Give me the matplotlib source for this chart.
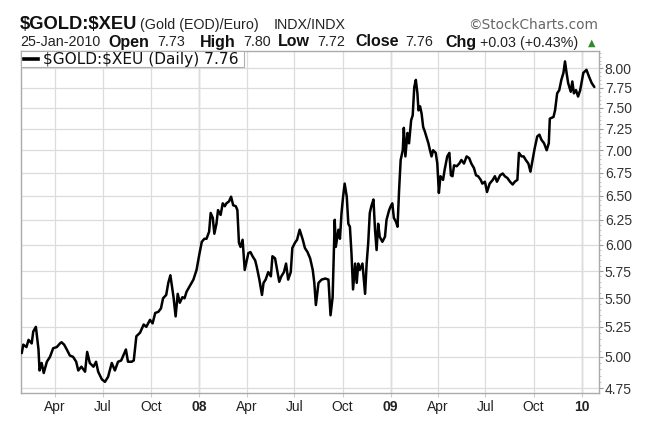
import matplotlib
matplotlib.use("Agg")
import matplotlib.pyplot as plt
import matplotlib.ticker as mticker
from matplotlib.patches import Rectangle
from matplotlib.lines import Line2D
import numpy as np
import pandas as pd

plt.rcParams['text.parse_math'] = False
plt.rcParams['font.family'] = ['Liberation Sans', 'DejaVu Sans']

# ---------------- data ----------------
dates = [
    # 2007
    "2007-01-27", "2007-01-30", "2007-02-05", "2007-02-09", "2007-02-15", "2007-02-18", "2007-02-23", "2007-02-28", "2007-03-02", "2007-03-06",
    "2007-03-10", "2007-03-16", "2007-03-22", "2007-03-28", "2007-04-04", "2007-04-10", "2007-04-13", "2007-04-18", "2007-04-23", "2007-04-29",
    "2007-05-05", "2007-05-11", "2007-05-15", "2007-05-21", "2007-05-28", "2007-06-01", "2007-06-06", "2007-06-13", "2007-06-18", "2007-06-22",
    "2007-06-29", "2007-07-05", "2007-07-11", "2007-07-18", "2007-07-24", "2007-07-30", "2007-08-05", "2007-08-14", "2007-08-18", "2007-08-25",
    "2007-08-29", "2007-09-03", "2007-09-10", "2007-09-17", "2007-09-22", "2007-09-29", "2007-10-04", "2007-10-09", "2007-10-15", "2007-10-20",
    "2007-10-24", "2007-10-30", "2007-11-03", "2007-11-07", "2007-11-13", "2007-11-17", "2007-11-21", "2007-11-25", "2007-11-30", "2007-12-04",
    "2007-12-08", "2007-12-14", "2007-12-21", "2007-12-27",
    # 2008
    "2008-01-01", "2008-01-06", "2008-01-11", "2008-01-15", "2008-01-20", "2008-01-23", "2008-01-27", "2008-01-30", "2008-02-03", "2008-02-06",
    "2008-02-11", "2008-02-15", "2008-02-19", "2008-02-22", "2008-02-27", "2008-03-02", "2008-03-06", "2008-03-11", "2008-03-14", "2008-03-17",
    "2008-03-20", "2008-03-24", "2008-03-28", "2008-04-01", "2008-04-04", "2008-04-08", "2008-04-12", "2008-04-17", "2008-04-20", "2008-04-25",
    "2008-04-30", "2008-05-03", "2008-05-07", "2008-05-12", "2008-05-17", "2008-05-20", "2008-05-25", "2008-05-29", "2008-06-02", "2008-06-06",
    "2008-06-11", "2008-06-15", "2008-06-19", "2008-06-24", "2008-06-27", "2008-07-02", "2008-07-06", "2008-07-11", "2008-07-17", "2008-07-21",
    "2008-07-26", "2008-07-31", "2008-08-05", "2008-08-08", "2008-08-11", "2008-08-16", "2008-08-22", "2008-08-29", "2008-09-04", "2008-09-08",
    "2008-09-12", "2008-09-16", "2008-09-18", "2008-09-23", "2008-09-26", "2008-09-29", "2008-10-02", "2008-10-05", "2008-10-09", "2008-10-12",
    "2008-10-15", "2008-10-18", "2008-10-21", "2008-10-25", "2008-10-28", "2008-10-31", "2008-11-03", "2008-11-08", "2008-11-13", "2008-11-16",
    "2008-11-19", "2008-11-22", "2008-11-25", "2008-11-29", "2008-12-02", "2008-12-05", "2008-12-08", "2008-12-11", "2008-12-16", "2008-12-21",
    "2008-12-24", "2008-12-29",
    # 2009
    "2009-01-01", "2009-01-04", "2009-01-07", "2009-01-11", "2009-01-14", "2009-01-17", "2009-01-20", "2009-01-24", "2009-01-26", "2009-01-29",
    "2009-02-02", "2009-02-05", "2009-02-09", "2009-02-12", "2009-02-15", "2009-02-18", "2009-02-21", "2009-02-23", "2009-02-26", "2009-03-01",
    "2009-03-04", "2009-03-07", "2009-03-10", "2009-03-14", "2009-03-17", "2009-03-20", "2009-03-23", "2009-03-28", "2009-03-31", "2009-04-03",
    "2009-04-06", "2009-04-11", "2009-04-14", "2009-04-19", "2009-04-23", "2009-04-26", "2009-04-29", "2009-05-02", "2009-05-07", "2009-05-12",
    "2009-05-16", "2009-05-21", "2009-05-26", "2009-05-31", "2009-06-04", "2009-06-09", "2009-06-13", "2009-06-17", "2009-06-22", "2009-06-25",
    "2009-06-30", "2009-07-04", "2009-07-09", "2009-07-15", "2009-07-19", "2009-07-23", "2009-07-29", "2009-08-03", "2009-08-07", "2009-08-12",
    "2009-08-17", "2009-08-22", "2009-08-26", "2009-08-31", "2009-09-03", "2009-09-08", "2009-09-12", "2009-09-16", "2009-09-21", "2009-09-25",
    "2009-09-29", "2009-10-03", "2009-10-08", "2009-10-12", "2009-10-16", "2009-10-21", "2009-10-26", "2009-10-30", "2009-11-01", "2009-11-08",
    "2009-11-11", "2009-11-15", "2009-11-19", "2009-11-23", "2009-11-27", "2009-11-30", "2009-12-03", "2009-12-06", "2009-12-11", "2009-12-14",
    "2009-12-17", "2009-12-21", "2009-12-25", "2009-12-29",
    # 2010
    "2010-01-04", "2010-01-10", "2010-01-15", "2010-01-20", "2010-01-25",
]

values = [
    # 2007
    5.03, 5.10, 5.08, 5.14, 5.11, 5.21, 5.25, 5.06, 4.89, 4.95,
    4.87, 4.96, 5.00, 5.07, 5.08, 5.11, 5.12, 5.10, 5.06, 5.01,
    5.00, 4.96, 4.89, 4.92, 4.88, 5.04, 4.95, 4.92, 4.96, 4.88,
    4.82, 4.80, 4.84, 4.95, 4.89, 4.96, 4.97, 5.06, 4.96, 4.96,
    4.97, 5.17, 5.20, 5.27, 5.25, 5.31, 5.28, 5.37, 5.38, 5.41,
    5.50, 5.53, 5.64, 5.71, 5.51, 5.34, 5.54, 5.46, 5.51, 5.50,
    5.56, 5.61, 5.67, 5.76,
    # 2008
    5.90, 6.03, 6.06, 6.06, 6.13, 6.32, 6.27, 6.11, 6.21, 6.35,
    6.30, 6.42, 6.39, 6.42, 6.44, 6.49, 6.40, 6.39, 6.35, 6.02,
    5.98, 6.05, 5.76, 5.85, 5.92, 5.93, 5.89, 5.85, 5.79, 5.67,
    5.53, 5.64, 5.67, 5.74, 5.70, 5.89, 5.87, 5.76, 5.65, 5.70,
    5.74, 5.82, 5.67, 5.74, 5.97, 6.02, 6.05, 6.15, 6.05, 5.97,
    5.93, 5.87, 5.76, 5.64, 5.44, 5.64, 5.67, 5.68, 5.67, 5.35,
    5.51, 6.25, 5.98, 6.15, 6.06, 6.32, 6.49, 6.63, 6.49, 6.21,
    6.18, 5.92, 5.58, 5.82, 5.64, 5.82, 5.76, 5.82, 5.54, 5.82,
    6.02, 6.32, 6.39, 6.46, 6.15, 5.95, 6.21, 6.08, 6.03, 6.08,
    6.25, 6.35,
    # 2009
    6.39, 6.42, 6.27, 6.23, 6.18, 6.56, 6.89, 7.00, 7.26, 6.93,
    7.20, 7.08, 7.35, 7.41, 7.76, 7.85, 7.68, 7.47, 7.52, 7.43,
    7.27, 7.22, 7.16, 7.08, 7.00, 6.93, 7.00, 6.97, 6.85, 6.53,
    6.71, 6.67, 6.78, 6.93, 6.97, 6.72, 6.71, 6.83, 6.82, 6.85,
    6.89, 6.85, 6.93, 6.91, 6.85, 6.80, 6.72, 6.71, 6.67, 6.63,
    6.65, 6.54, 6.63, 6.67, 6.71, 6.65, 6.72, 6.74, 6.71, 6.69,
    6.65, 6.62, 6.65, 6.67, 6.97, 6.93, 6.93, 6.89, 6.85, 6.76,
    6.89, 7.02, 7.16, 7.18, 7.12, 7.08, 7.00, 7.08, 7.37, 7.39,
    7.47, 7.68, 7.72, 7.85, 7.94, 8.09, 7.94, 7.81, 7.70, 7.83,
    7.68, 7.72, 7.64, 7.72,
    # 2010
    7.94, 7.98, 7.89, 7.81, 7.76,
]

y_ticks = [4.75, 5.00, 5.25, 5.50, 5.75, 6.00, 6.25, 6.50, 6.75, 7.00, 7.25, 7.50, 7.75, 8.00]
x_tick_dates = ["2007-04-01", "2007-07-01", "2007-10-01", "2008-01-01",
                "2008-04-01", "2008-07-01", "2008-10-01", "2009-01-01",
                "2009-04-01", "2009-07-01", "2009-10-01", "2010-01-01"]
x_tick_labels = ["Apr", "Jul", "Oct", "08", "Apr", "Jul", "Oct", "09",
                 "Apr", "Jul", "Oct", "10"]
year_ticks = ["2008-01-01", "2009-01-01", "2010-01-01"]

x_start, x_end = "2007-01-25", "2010-02-02"
y_low, y_high = 4.716, 8.235

title_sym = "$GOLD:$XEU"
title_desc = "(Gold (EOD)/Euro)"
title_exch = "INDX/INDX"
quote_date = "25-Jan-2010"
quote_fields = [("Open", "7.73"), ("High", "7.80"), ("Low", "7.72"),
                ("Close", "7.76"), ("Chg", "+0.03 (+0.43%)")]
legend_text = "$GOLD:$XEU (Daily) 7.76"
credit = "\u00a9StockCharts.com"

# ---------------- figure ----------------
W, H = 645, 429
fig = plt.figure(figsize=(W / 100, H / 100), dpi=100)
fig.patch.set_facecolor("white")

def fx(px):
    return px / W

def fy(py):
    return 1 - py / H

left, right, top, bottom = 20.7, 598.5, 50.5, 392.7
ax = fig.add_axes([fx(left), fy(bottom), fx(right - left), (bottom - top) / H])

d = pd.to_datetime(dates)
ax.plot(d, values, color="black", lw=1.8, solid_joinstyle="round",
        solid_capstyle="round", zorder=3)

ax.set_yscale("log")
ax.set_ylim(y_low, y_high)
ax.set_xlim(pd.Timestamp(x_start), pd.Timestamp(x_end))

# y axis on the right
ax.yaxis.tick_right()
ax.yaxis.set_major_locator(mticker.FixedLocator(y_ticks))
ax.yaxis.set_major_formatter(mticker.FixedFormatter([f"{v:.2f}" for v in y_ticks]))
ax.yaxis.set_minor_locator(mticker.FixedLocator(np.arange(4.75, 8.21, 0.05)))
ax.yaxis.set_minor_formatter(mticker.NullFormatter())
ax.tick_params(axis="y", which="major", length=3, width=0.8, color="#999999",
               labelsize=10, labelcolor="#333333", pad=1.5)
ax.tick_params(axis="y", which="minor", length=1.5, width=0.6, color="#bbbbbb")

# x axis
xt = pd.to_datetime(x_tick_dates)
ax.set_xticks(xt)
ax.set_xticklabels(x_tick_labels)
ax.xaxis.set_minor_locator(mticker.NullLocator())
ax.tick_params(axis="x", which="major", length=3, width=0.8, color="#cccccc",
               labelsize=10, labelcolor="#222222", pad=2.5)
for lab in ax.get_xticklabels():
    if lab.get_text().isdigit():
        lab.set_fontweight("bold")

ax.grid(True, which="major", axis="both", color="#dcdcdc", lw=0.9, zorder=0)
for yd in pd.to_datetime(year_ticks):
    ax.axvline(yd, color="#c2c2c2", lw=1.0, zorder=1)

for s in ax.spines.values():
    s.set_color("#aaaaaa")
    s.set_linewidth(1.0)

# legend box inside top-left of plot
ax.add_patch(Rectangle((fx(left), fy(67)), fx(244 - left), 16.5 / H,
                       transform=fig.transFigure, facecolor="white",
                       edgecolor="#b0b0b0", lw=0.8, zorder=5, clip_on=False))
ax.add_line(Line2D([fx(23.5), fx(37.5)], [fy(59), fy(59)], transform=fig.transFigure,
                   color="black", lw=2.6, zorder=6, clip_on=False))
fig.text(fx(43), fy(59.5), legend_text, family="DejaVu Sans", fontsize=11.1,
         va="center", ha="left", color="#111111", zorder=7)

# header texts
fig.text(fx(20), fy(29), title_sym, fontsize=13.2, fontweight="bold", va="baseline",
         color="#111111")
fig.text(fx(140), fy(29), title_desc, fontsize=10.3, va="baseline", color="#222222")
fig.text(fx(274), fy(29), title_exch, fontsize=10.3, va="baseline", color="#222222")
fig.text(fx(598), fy(29), credit, family="DejaVu Sans", fontsize=9.8,
         va="baseline", ha="right", color="#666666")

fig.text(fx(20), fy(46.5), quote_date, fontsize=10.3, va="baseline", color="#222222")
label_x = [108, 200, 278, 355, 445]
value_x = [157, 243, 317, 405, 480]
for (lab, val), lx, vx in zip(quote_fields, label_x, value_x):
    fig.text(fx(lx), fy(46.5), lab, fontsize=11.5, fontweight="bold",
             va="baseline", color="#111111")
    fig.text(fx(vx), fy(46.5), val, fontsize=10.3, va="baseline", color="#222222")
fig.text(fx(588), fy(46), "\u25b2", family="DejaVu Sans", fontsize=7,
         va="baseline", color="#2e8b2e")

fig.savefig("out.png", dpi=100, facecolor="white")
